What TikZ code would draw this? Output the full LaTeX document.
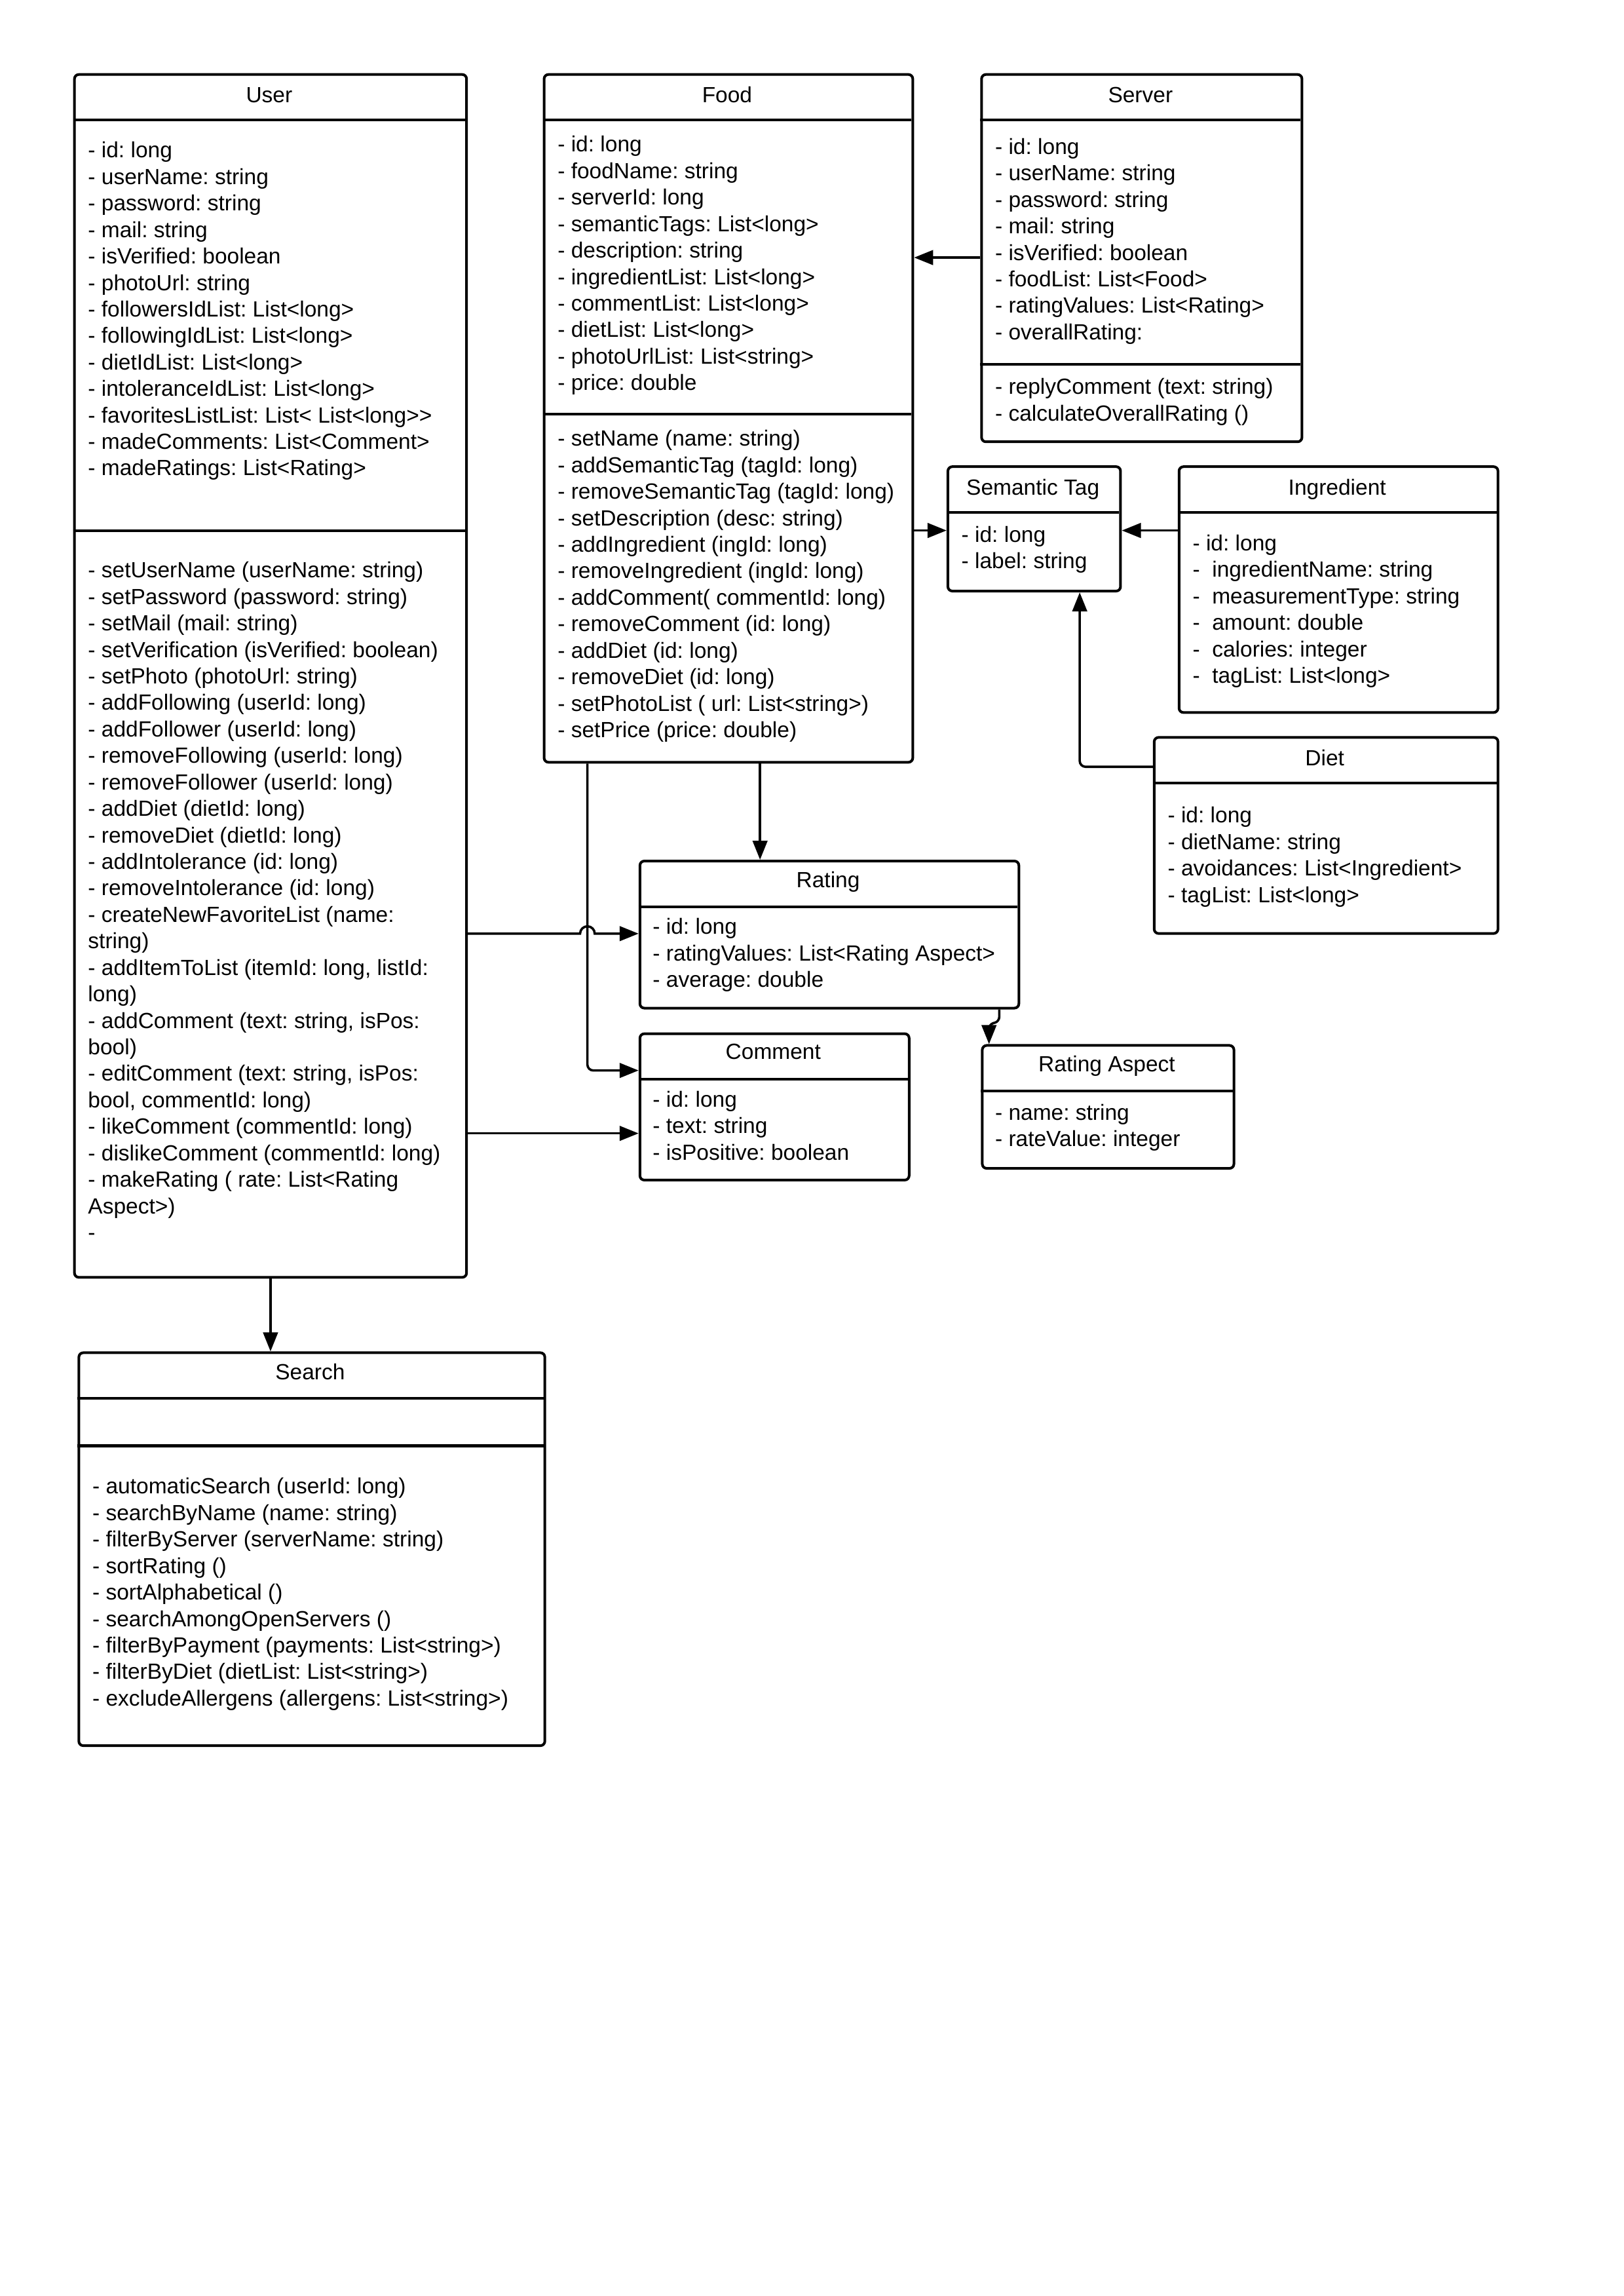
\documentclass[tikz,border=0pt]{standalone}
\usepackage{fontspec}
\setmainfont{Liberation Sans}
\usetikzlibrary{arrows.meta}
\frenchspacing
\begin{document}
\begin{tikzpicture}[x=1pt,y=-1pt,
  box/.style={draw, line width=1.8pt, rounded corners=3pt, inner sep=0pt, anchor=north west},
  divl/.style={line width=1.8pt},
  ttl/.style={font=\fontsize{15}{18.1}\selectfont, anchor=base, inner sep=0pt},
  txt/.style={font=\fontsize{15}{18.1}\selectfont\frenchspacing, align=left, anchor=north west, inner sep=0pt},
  arr/.style={line width=1.6pt, -{Triangle[length=13pt,width=10pt]}}]
\useasboundingbox (0,0) rectangle (1110,1569);
\fill[white] (0,0) rectangle (1110,1569);

% ---------------- boxes ----------------
\node[box, minimum width=268pt, minimum height=822pt] (user) at (50,50) {};
\draw[divl] (50,82) -- (318,82);
\draw[divl] (50,362.5) -- (318,362.5);
\node[ttl] (usert) at (184,70) {User};
\node[txt] (usera) at (60,95) {\strut - id: long\\- userName: string\\- password: string\\- mail: string\\- isVerified: boolean\\- photoUrl: string\\- followersIdList: List<long>\\- followingIdList: List<long>\\- dietIdList: List<long>\\- intoleranceIdList: List<long>\\- favoritesListList: List< List<long>{}>\\- madeComments: List<Comment>\\- madeRatings: List<Rating>};
\node[txt] (userm) at (60,382) {\strut - setUserName (userName: string)\\- setPassword (password: string)\\- setMail (mail: string)\\- setVerification (isVerified: boolean)\\- setPhoto (photoUrl: string)\\- addFollowing (userId: long)\\- addFollower (userId: long)\\- removeFollowing (userId: long)\\- removeFollower (userId: long)\\- addDiet (dietId: long)\\- removeDiet (dietId: long)\\- addIntolerance (id: long)\\- removeIntolerance (id: long)\\- createNewFavoriteList (name:\\string)\\- addItemToList (itemId: long, listId:\\long)\\- addComment (text: string, isPos:\\bool)\\- editComment (text: string, isPos:\\bool, commentId: long)\\- likeComment (commentId: long)\\- dislikeComment (commentId: long)\\- makeRating ( rate: List<Rating\\Aspect>)\\-};

\node[box, minimum width=252pt, minimum height=470pt] (food) at (371,50) {};
\draw[divl] (371,82) -- (623,82);
\draw[divl] (371,283) -- (623,283);
\node[ttl] (foodt) at (497,70) {Food};
\node[txt] (fooda) at (381,91) {\strut - id: long\\- foodName: string\\- serverId: long\\- semanticTags: List<long>\\- description: string\\- ingredientList: List<long>\\- commentList: List<long>\\- dietList: List<long>\\- photoUrlList: List<string>\\- price: double};
\node[txt] (foodm) at (381,292) {\strut - setName (name: string)\\- addSemanticTag (tagId: long)\\- removeSemanticTag (tagId: long)\\- setDescription (desc: string)\\- addIngredient (ingId: long)\\- removeIngredient (ingId: long)\\- addComment( commentId: long)\\- removeComment (id: long)\\- addDiet (id: long)\\- removeDiet (id: long)\\- setPhotoList ( url: List<string>)\\- setPrice (price: double)};

\node[box, minimum width=219pt, minimum height=251pt] (server) at (670,50) {};
\draw[divl] (670,82) -- (889,82);
\draw[divl] (670,249) -- (889,249);
\node[ttl] (servert) at (779.5,70) {Server};
\node[txt] (servera) at (680,92.5) {\strut - id: long\\- userName: string\\- password: string\\- mail: string\\- isVerified: boolean\\- foodList: List<Food>\\- ratingValues: List<Rating>\\- overallRating:};
\node[txt] (serverm) at (680,256.5) {\strut - replyComment (text: string)\\- calculateOverallRating ()};

\node[box, minimum width=118pt, minimum height=85pt] (semtag) at (647,318) {};
\draw[divl] (647,350) -- (765,350);
\node[ttl] (semtagt) at (706,338.5) {Semantic Tag};
\node[txt] (semtaga) at (657,357.5) {\strut - id: long\\- label: string};

\node[box, minimum width=218pt, minimum height=168pt] (ingr) at (805,318) {};
\draw[divl] (805,350) -- (1023,350);
\node[ttl] (ingrt) at (914,338.5) {Ingredient};
\node[txt] (ingra) at (815,363.5) {\strut - id: long\\-\ \ ingredientName: string\\-\ \ measurementType: string\\-\ \ amount: double\\-\ \ calories: integer\\-\ \ tagList: List<long>};

\node[box, minimum width=235pt, minimum height=134pt] (diet) at (788,503) {};
\draw[divl] (788,535) -- (1023,535);
\node[ttl] (dietT) at (905.5,523) {Diet};
\node[txt] (dieta) at (798,549.5) {\strut - id: long\\- dietName: string\\- avoidances: List<Ingredient>\\- tagList: List<long>};

\node[box, minimum width=259pt, minimum height=100.5pt] (rating) at (436.5,587.5) {};
\draw[divl] (436.5,619.5) -- (695.5,619.5);
\node[ttl] (ratingt) at (566,606.5) {Rating};
\node[txt] (ratinga) at (446,625.5) {\strut - id: long\\- ratingValues: List<Rating Aspect>\\- average: double};

\node[box, minimum width=184pt, minimum height=100pt] (comment) at (436.5,705.5) {};
\draw[divl] (436.5,737.5) -- (620.5,737.5);
\node[ttl] (commentt) at (528.5,723.8) {Comment};
\node[txt] (commenta) at (446,743.5) {\strut - id: long\\- text: string\\- isPositive: boolean};

\node[box, minimum width=172pt, minimum height=84pt] (ra) at (670.5,713.5) {};
\draw[divl] (670.5,745.5) -- (842.5,745.5);
\node[ttl] (rat) at (756.5,732.4) {Rating Aspect};
\node[txt] (raa) at (680,752.5) {\strut - name: string\\- rateValue: integer};

\node[box, minimum width=318.5pt, minimum height=268.5pt] (search) at (53,923.5) {};
\draw[divl] (53,955.5) -- (371.5,955.5);
\draw[divl] (53,988) -- (371.5,988);
\node[ttl] (searcht) at (212,942.6) {Search};
\node[txt] (searchm) at (63,1008) {\strut - automaticSearch (userId: long)\\- searchByName (name: string)\\- filterByServer (serverName: string)\\- sortRating ()\\- sortAlphabetical ()\\- searchAmongOpenServers ()\\- filterByPayment (payments: List<string>)\\- filterByDiet (dietList: List<string>)\\- excludeAllergens (allergens: List<string>)};

% ---------------- connectors ----------------
\coordinate (ys) at (0,176);
\draw[arr] (server.west |- ys) -- (food.east |- ys);
\coordinate (yt) at (0,362.5);
\draw[arr] (food.east |- yt) -- (semtag.west |- yt);
\draw[arr] (ingr.west |- yt) -- (semtag.east |- yt);
\coordinate (yd) at (738,524);
\draw[arr, rounded corners=4pt] (diet.west |- yd) -- (yd) -- (yd |- semtag.south);
\coordinate (xr) at (519.5,0);
\draw[arr] (xr |- food.south) -- (xr |- rating.north);
\coordinate (fc) at (401.5,731.5);
\draw[arr, rounded corners=4pt] (fc |- food.south) -- (fc) -- (fc -| comment.west);
\coordinate (hop) at (396.5,638);
\draw[arr] (user.east |- hop) -- (hop) arc[start angle=180, end angle=360, radius=5] -- (rating.west |- hop);
\coordinate (yc) at (0,774.5);
\draw[arr] (user.east |- yc) -- (comment.west |- yc);
\coordinate (ra1) at (683,698);
\coordinate (ra2) at (676,700);
\draw[arr, rounded corners=3pt] (ra1 |- rating.south) -- (ra1) -- (ra2) -- (ra2 |- ra.north);
\draw[arr] (user.south) -- (user.south |- search.north);
\end{tikzpicture}
\end{document}
